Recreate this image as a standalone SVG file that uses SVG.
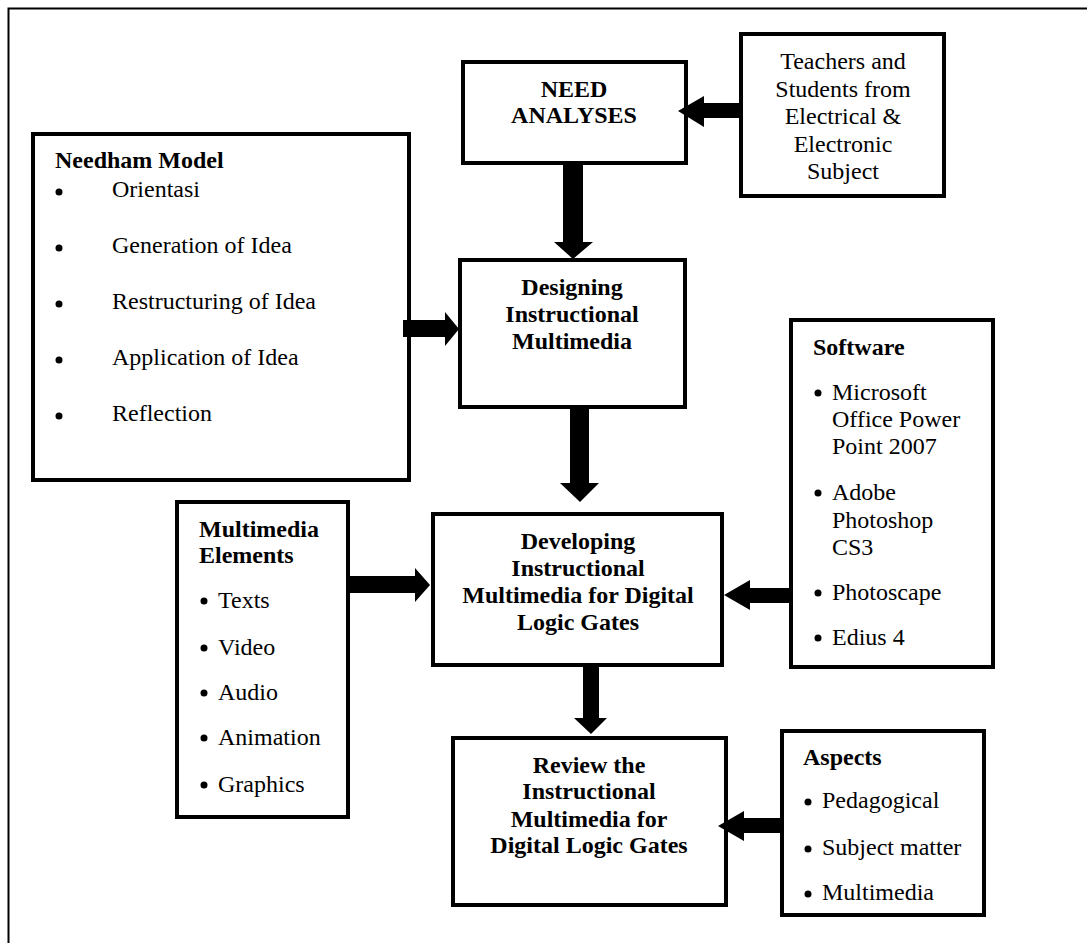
<svg xmlns="http://www.w3.org/2000/svg" width="1087" height="943" viewBox="0 0 1087 943">
<style>
.box{fill:#fff;stroke:#000;stroke-width:4}
.t{font-family:"Liberation Serif","Times New Roman",serif;font-size:24px;fill:#000}
.b{font-weight:bold}
.c{text-anchor:middle}
.arr{fill:#000;stroke:none}
</style>
<rect width="1087" height="943" fill="#fff"/>
<path d="M8.5,943 V8.5 H1087" fill="none" stroke="#000" stroke-width="2"/>

<g id="need-analyses">
<rect class="box" x="463" y="62" width="223" height="101"/>
<text class="t b c" x="574" y="97">NEED</text>
<text class="t b c" x="574" y="123">ANALYSES</text>
</g>

<g id="teachers">
<rect class="box" x="741" y="34" width="203" height="162"/>
<text class="t c" x="843" y="69">Teachers and</text>
<text class="t c" x="843" y="97">Students from</text>
<text class="t c" x="843" y="124">Electrical &amp;</text>
<text class="t c" x="843" y="152">Electronic</text>
<text class="t c" x="843" y="179">Subject</text>
</g>

<g id="needham">
<rect class="box" x="33" y="134" width="376" height="346"/>
<text class="t b" x="55" y="168">Needham Model</text>
<circle cx="59" cy="192" r="3.5"/>
<text class="t" x="112" y="197">Orientasi</text>
<circle cx="59" cy="248" r="3.5"/>
<text class="t" x="112" y="253">Generation of Idea</text>
<circle cx="59" cy="304" r="3.5"/>
<text class="t" x="112" y="309">Restructuring of Idea</text>
<circle cx="59" cy="360" r="3.5"/>
<text class="t" x="112" y="365">Application of Idea</text>
<circle cx="59" cy="416" r="3.5"/>
<text class="t" x="112" y="421">Reflection</text>
</g>

<g id="designing">
<rect class="box" x="460" y="260" width="225" height="147"/>
<text class="t b c" x="572" y="295">Designing</text>
<text class="t b c" x="572" y="322">Instructional</text>
<text class="t b c" x="572" y="349">Multimedia</text>
</g>

<g id="software">
<rect class="box" x="791" y="320" width="202" height="347"/>
<text class="t b" x="813" y="355">Software</text>
<circle cx="818" cy="393" r="3.5"/>
<text class="t" x="832" y="400">Microsoft</text>
<text class="t" x="832" y="427">Office Power</text>
<text class="t" x="832" y="454">Point 2007</text>
<circle cx="818" cy="493" r="3.5"/>
<text class="t" x="832" y="500">Adobe</text>
<text class="t" x="832" y="528">Photoshop</text>
<text class="t" x="832" y="555">CS3</text>
<circle cx="818" cy="593" r="3.5"/>
<text class="t" x="832" y="600">Photoscape</text>
<circle cx="818" cy="638" r="3.5"/>
<text class="t" x="832" y="645">Edius 4</text>
</g>

<g id="multimedia-elements">
<rect class="box" x="177" y="502" width="171" height="315"/>
<text class="t b" x="199" y="537">Multimedia</text>
<text class="t b" x="199" y="563">Elements</text>
<circle cx="204" cy="601" r="3.5"/>
<text class="t" x="218" y="608">Texts</text>
<circle cx="204" cy="648" r="3.5"/>
<text class="t" x="218" y="655">Video</text>
<circle cx="204" cy="693" r="3.5"/>
<text class="t" x="218" y="700">Audio</text>
<circle cx="204" cy="738" r="3.5"/>
<text class="t" x="218" y="745">Animation</text>
<circle cx="204" cy="785" r="3.5"/>
<text class="t" x="218" y="792">Graphics</text>
</g>

<g id="developing">
<rect class="box" x="433" y="514" width="289" height="151"/>
<text class="t b c" x="578" y="549">Developing</text>
<text class="t b c" x="578" y="576">Instructional</text>
<text class="t b c" x="578" y="603">Multimedia for Digital</text>
<text class="t b c" x="578" y="630">Logic Gates</text>
</g>

<g id="review">
<rect class="box" x="453" y="738" width="273" height="167"/>
<text class="t b c" x="589" y="773">Review the</text>
<text class="t b c" x="589" y="799">Instructional</text>
<text class="t b c" x="589" y="827">Multimedia for</text>
<text class="t b c" x="589" y="853">Digital Logic Gates</text>
</g>

<g id="aspects">
<rect class="box" x="782" y="731" width="202" height="184"/>
<text class="t b" x="803" y="765">Aspects</text>
<circle cx="808" cy="802" r="3.5"/>
<text class="t" x="822" y="808">Pedagogical</text>
<circle cx="808" cy="849" r="3.5"/>
<text class="t" x="822" y="855">Subject matter</text>
<circle cx="808" cy="894" r="3.5"/>
<text class="t" x="822" y="900">Multimedia</text>
</g>

<g id="connectors">
<polygon class="arr" points="563,163 583,163 583,242 593,242 573,259 554,242 563,242"/>
<polygon class="arr" points="741,103 741,118 704,118 704,127 678,111 704,96 704,103"/>
<polygon class="arr" points="403,320 445,320 445,312 459,329 445,346 445,337 403,337"/>
<polygon class="arr" points="570,407 589,407 589,483 599,483 580,502 560,483 570,483"/>
<polygon class="arr" points="349,576 415,576 415,568 430,585 415,602 415,593 349,593"/>
<polygon class="arr" points="790,588 790,603 750,603 750,610 724,595 750,580 750,588"/>
<polygon class="arr" points="583,665 599,665 599,718 607,718 591,734 574,718 583,718"/>
<polygon class="arr" points="782,818 782,833 744,833 744,841 718,826 744,811 744,818"/>
</g>
</svg>
